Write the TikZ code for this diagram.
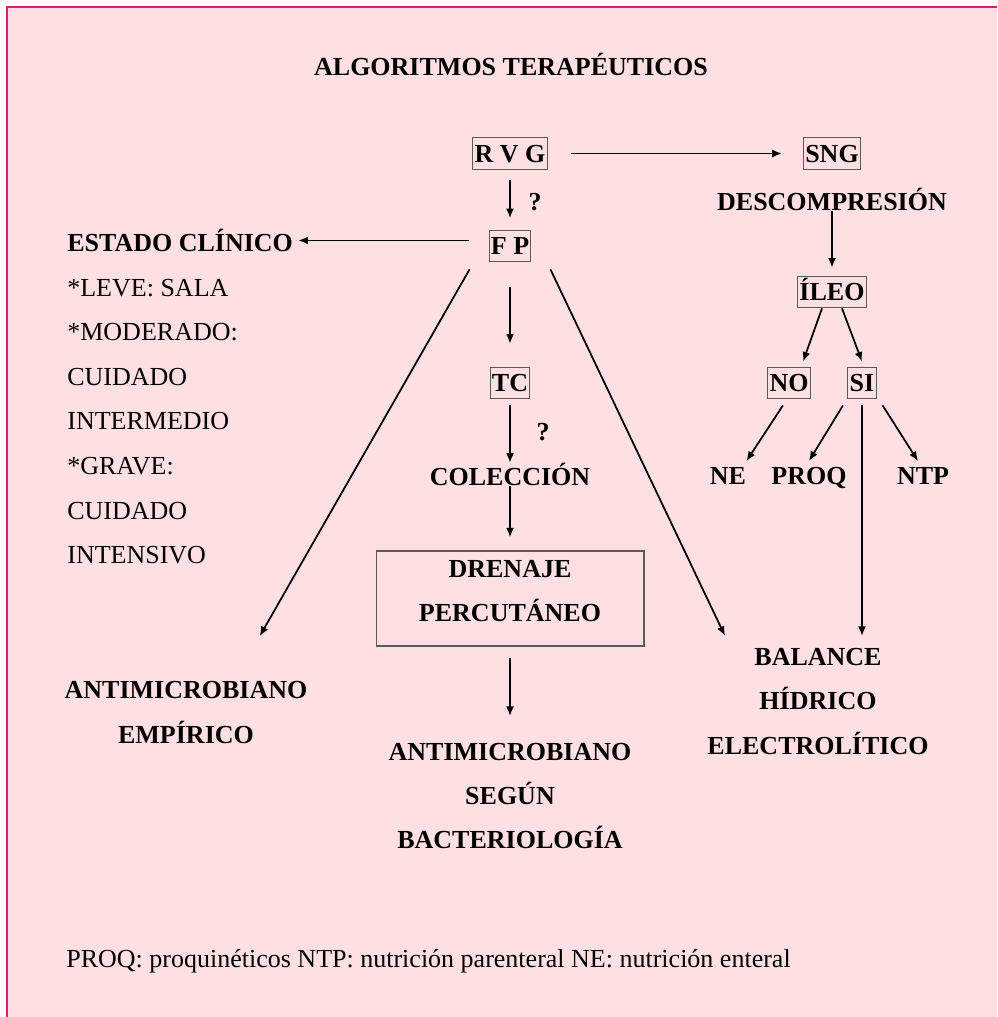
\documentclass[tikz,border=0pt]{standalone}
\usepackage{fontspec}
\setmainfont{Liberation Serif}
\usetikzlibrary{arrows.meta}
\definecolor{rosa}{HTML}{FFE0E2}
\definecolor{borde}{HTML}{D81E7B}
\definecolor{gris}{HTML}{5A5A5A}
\newcommand{\tam}{\fontsize{14.8}{25.3}\selectfont}

\begin{document}
\begin{tikzpicture}[x=0.02cm,y=-0.02cm,font=\tam,
    caja/.style={draw=gris,line width=0.6pt,inner xsep=1pt,inner ysep=0pt,
                 minimum height=18pt,text height=10pt,text depth=0.3pt,font=\tam\bfseries},
    txt/.style={inner sep=0pt,font=\tam\bfseries},
    flecha/.style={-{Latex[length=5.5pt,width=4.5pt]},line width=1pt}]
  \useasboundingbox (0,0) rectangle (997,1017);
  \fill[rosa] (7,7) rectangle (997,1017);
  \draw[borde,line width=1.3pt] (7,1017) -- (7,7) -- (997,7);

  \node[txt,anchor=base] (titulo) at (511,75.5) {ALGORITMOS TERAPÉUTICOS};

  % rama central
  \node[caja] (rvg) at (510,153.5) {R V G};
  \node[caja] (fp) at (510,246) {F P};
  \node[txt,anchor=base] (qrvg) at (535,210.5) {?};
  \node[caja] (tc) at (510,383) {TC};
  \node[txt,anchor=base] (qtc) at (543,440.5) {?};
  \node[txt,anchor=base] (colec) at (510,485.5) {COLECCIÓN};
  \node[draw=gris,line width=0.6pt,minimum width=5.36cm,minimum height=1.9cm] (drenaje) at (510,598.5) {};
  \node[txt,align=center] (dren) at (510,591) {DRENAJE\\PERCUTÁNEO};
  \node[txt,align=center] (atb) at (510,796) {ANTIMICROBIANO\\SEGÚN\\BACTERIOLOGÍA};

  % izquierda
  \node[anchor=base west,inner sep=0pt,font=\tam\bfseries] (estado) at (67,251.5) {ESTADO CLÍNICO};
  \foreach \linea [count=\i] in {*LEVE: SALA,*MODERADO:,CUIDADO,INTERMEDIO,*GRAVE:,CUIDADO,INTENSIVO}
    \node[anchor=base west,inner sep=0pt] (est\i) at (67,{251.5+44.6*\i}) {\linea};
  \node[txt,align=center] (atbemp) at (186,712.5) {ANTIMICROBIANO\\EMPÍRICO};

  % derecha
  \node[caja] (sng) at (832,153.5) {SNG};
  \node[txt,anchor=base] (desc) at (832,210.2) {DESCOMPRESIÓN};
  \node[caja] (ileo) at (832,292) {ÍLEO};
  \node[caja] (no) at (789,383) {NO};
  \node[caja] (si) at (862,383) {SI};
  \node[txt,anchor=base] (ne) at (728,484.5) {NE};
  \node[txt,anchor=base] (proq) at (809,484.5) {PROQ};
  \node[txt,anchor=base] (ntp) at (923,484.5) {NTP};
  \node[txt,align=center] (balance) at (818,701.5) {BALANCE\\HÍDRICO\\ELECTROLÍTICO};

  \node[anchor=base west,inner sep=0pt] (nota) at (66,967)
    {PROQ: proquinéticos NTP: nutrición parenteral NE: nutrición enteral};

  % flechas
  \draw[flecha,shorten <=13pt,shorten >=12pt] (rvg.east) -- (sng.west);
  \draw[flecha,shorten <=6pt,shorten >=6.5pt] (rvg) -- (fp);
  \draw[flecha,shorten <=11pt,shorten >=2.8pt] (fp.west |- estado.east) -- (estado.east);
  \draw[flecha] ([shift={(-19,7)}]fp.south west) -- ([shift={(-48,-45)}]atbemp.north east);
  \draw[flecha] ([shift={(19,7)}]fp.south east) -- ([shift={(-93,-12)}]balance.north);
  \draw[flecha,shorten <=14pt,shorten >=13pt] (fp) -- (tc);
  \draw[flecha,shorten <=3.5pt] (tc) -- (colec);
  \draw[flecha,shorten >=7.4pt] (colec.south) -- (drenaje.north);
  \draw[flecha,shorten <=6.8pt,shorten >=15pt] (drenaje.south) -- (atb.north);
  \draw[flecha,shorten >=4.5pt] (desc.south) -- (ileo.north);
  \draw[flecha] ([shift={(-10,0)}]ileo.south) -- ([shift={(14,-5)}]no.north);
  \draw[flecha] ([shift={(10,0)}]ileo.south) -- ([shift={(0,-5)}]si.north);
  \draw[flecha] ([shift={(-6,6)}]no.south) -- ([shift={(0,-6)}]ne.north east);
  \draw[flecha] ([shift={(-19,6)}]si.south) -- ([shift={(0,-6)}]proq.north);
  \draw[flecha,shorten <=3.4pt,shorten >=6.8pt] (si.south) -- (si.south |- balance.north);
  \draw[flecha] ([shift={(6,6)}]si.south east) -- ([shift={(-5,-6)}]ntp.north);
\end{tikzpicture}
\end{document}
